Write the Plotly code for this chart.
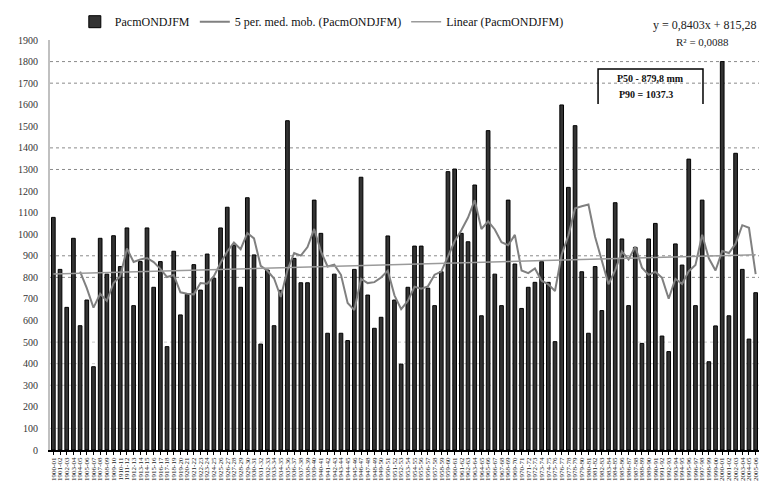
import numpy as np
import pandas as pd
import plotly.graph_objects as go

# ---- data ----
years = [f"{y}-{str(y + 1)[2:]}" for y in range(1900, 2006)]
precip = [1078, 837, 661, 981, 576, 695, 386, 981, 815, 993,
          850, 1029, 669, 873, 1029, 754, 873, 479, 921, 626,
          721, 859, 741, 908, 796, 1029, 1125, 950, 754, 1169,
          904, 491, 834, 576, 740, 1526, 888, 775, 775, 1158,
          1004, 541, 815, 541, 507, 837, 1264, 718, 564, 615,
          992, 695, 398, 754, 945, 945, 750, 669, 826, 1290,
          1302, 1004, 965, 1228, 622, 1480, 815, 669, 1158, 862,
          656, 754, 777, 873, 777, 502, 1599, 1217, 1503, 826,
          541, 850, 646, 978, 1146, 978, 669, 939, 494, 978,
          1050, 528, 456, 955, 857, 1348, 669, 1158, 409, 575,
          1800, 622, 1375, 837, 514, 729]
y_ticks = list(range(0, 2000, 100))
grid_strong = [1800, 1700, 1400, 1300, 900, 800]
grid_faint = [500, 400, 300, 100]
series_name = "PacmONDJFM"
box_lines = ["P50 - 879,8 mm", "P90 = 1037.3"]

# ---- derived series (as the spreadsheet computes them) ----
idx = np.arange(1, len(precip) + 1)
ma5 = pd.Series(precip, dtype=float).rolling(5).mean()
slope, intercept = np.polyfit(idx, precip, 1)
trend = slope * idx + intercept
resid = np.array(precip) - trend
r2 = 1 - (resid ** 2).sum() / ((np.array(precip) - np.mean(precip)) ** 2).sum()

FONT = "Liberation Serif"

fig = go.Figure()
fig.add_trace(go.Bar(
    x=years, y=precip, name=series_name,
    marker=dict(color="#333333", line=dict(color="#000000", width=1)),
))
fig.add_trace(go.Scatter(
    x=years, y=ma5, mode="lines", name=f"5 per. med. mob. ({series_name})",
    line=dict(color="#808080", width=2),
))
fig.add_trace(go.Scatter(
    x=years, y=trend, mode="lines", name=f"Linear ({series_name})",
    line=dict(color="#9a9a9a", width=1.5),
))

shapes = []
for v in grid_strong:
    shapes.append(dict(type="line", xref="paper", yref="y", x0=0, x1=1, y0=v, y1=v,
                       line=dict(color="#8a8a8a", width=1, dash="dot"), layer="below"))
for v in grid_faint:
    shapes.append(dict(type="line", xref="paper", yref="y", x0=0, x1=1, y0=v, y1=v,
                       line=dict(color="#c8c8c8", width=1, dash="dot"), layer="below"))
# bracket-like box around the percentile note
shapes.append(dict(type="path", xref="paper", yref="paper",
                   path="M 0.773 0.844 L 0.773 0.929 L 0.921 0.929 L 0.921 0.844",
                   line=dict(color="#000000", width=1.5)))
fig.update_layout(shapes=shapes)

eq = f"y = {slope:.4f}x + {intercept:.2f}".replace(".", ",")
r2txt = f"R² = {r2:.4f}".replace(".", ",")
annotations = [
    dict(text=eq, xref="paper", yref="paper", x=1.0, y=1.037, xanchor="right",
         yanchor="middle", showarrow=False, font=dict(family=FONT, size=12, color="#222")),
    dict(text=r2txt, xref="paper", yref="paper", x=0.921, y=0.995, xanchor="center",
         yanchor="middle", showarrow=False, font=dict(family=FONT, size=11, color="#222")),
    dict(text=f"<b>{box_lines[0]}</b>", xref="paper", yref="paper", x=0.847, y=0.905,
         xanchor="center", yanchor="middle", showarrow=False,
         font=dict(family=FONT, size=10, color="#111")),
    dict(text=f"<b>{box_lines[1]}</b>", xref="paper", yref="paper", x=0.84, y=0.866,
         xanchor="center", yanchor="middle", showarrow=False,
         font=dict(family=FONT, size=10, color="#111")),
]

fig.update_layout(
    width=759, height=484,
    margin=dict(l=50, r=0, t=40, b=34),
    paper_bgcolor="white", plot_bgcolor="white",
    bargap=0.45,
    font=dict(family=FONT, size=9, color="#222"),
    annotations=annotations,
    legend=dict(orientation="h", x=0.035, y=1.08, xanchor="left", yanchor="top",
                font=dict(family=FONT, size=12, color="#111"), bgcolor="rgba(0,0,0,0)",
                itemwidth=30, tracegroupgap=0),
    xaxis=dict(type="category", range=[-0.5, len(precip) - 0.5], showgrid=False,
               tickmode="array", tickvals=years, ticktext=years,
               showline=True, linecolor="#000", linewidth=1.5, ticks="outside",
               ticklen=3, tickcolor="#000", tickangle=-90,
               tickfont=dict(family=FONT, size=7, color="#222"), automargin=False),
    yaxis=dict(range=[0, 1900], tickvals=y_ticks, showgrid=False, zeroline=False,
               showline=True, linecolor="#c0c0c0", linewidth=2, ticks="",
               ticklabelstandoff=8,
               tickfont=dict(family=FONT, size=10, color="#333"), automargin=False),
)

fig.write_html("out.html")
